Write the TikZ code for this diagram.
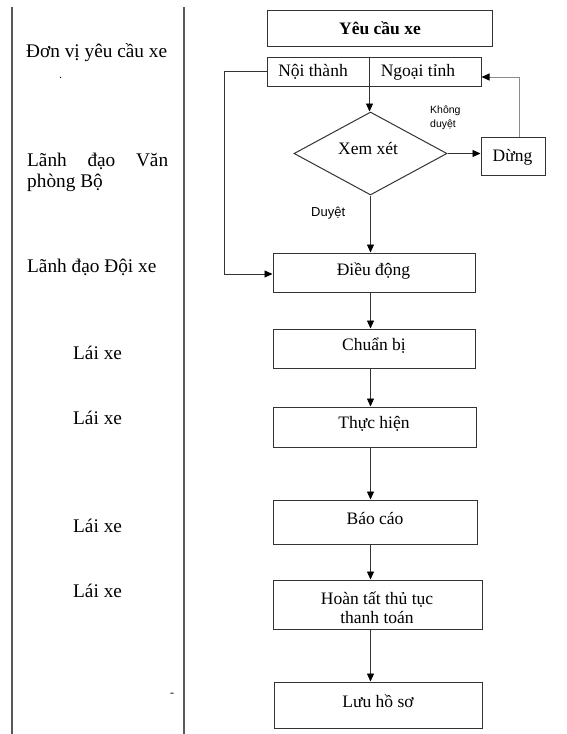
\documentclass[tikz,border=0pt]{standalone}
\usepackage{fontspec}
\setmainfont{Liberation Serif}
\newfontfamily\notesans{Liberation Sans}
\usetikzlibrary{arrows.meta,shapes.geometric}

\begin{document}
\begin{tikzpicture}[x=1pt,y=-1pt,
  lane/.style={draw=black!65, line width=1.4pt},
  box/.style={draw=black!80, line width=1pt, rectangle, inner sep=0pt},
  boxtext/.style={font=\fontsize{17.5}{19}\selectfont, inner sep=0pt, align=center},
  role/.style={font=\fontsize{19.3}{21}\selectfont, inner sep=0pt, anchor=west, align=left},
  flow/.style={draw=black!80, line width=0.9pt, -{Triangle[length=8pt,width=7pt,color=black]}},
  note/.style={font=\notesans\fontsize{10.5}{14}\selectfont, inner sep=0pt, align=left, anchor=west}
]
\useasboundingbox (0,0) rectangle (567,734);

% swimlane borders of the role column
\draw[lane] (12,7) -- (12,734);
\draw[lane] (184,7) -- (184,734);

% roles
\node[role] (r1) at (26,53) {Đơn vị yêu cầu xe};
\node[role, font=\fontsize{12}{12}\selectfont] (r1dot) at (59,78) {.};
\node[role] (r2) at (27,172) {\makebox[141pt][s]{Lãnh đạo Văn}\\phòng Bộ};
\node[role] (r3) at (27,267) {Lãnh đạo Đội xe};
\node[role] (r4) at (73,353) {Lái xe};
\node[role] (r5) at (73,418) {Lái xe};
\node[role] (r6) at (73,526) {Lái xe};
\node[role] (r7) at (73,591) {Lái xe};
\node[role, font=\fontsize{12}{12}\selectfont] (rdash) at (170,695) {-};

% process boxes
\node[box, minimum width=225pt, minimum height=36pt] (yc) at (379.5,28) {};
\node[box, minimum width=102pt, minimum height=29pt] (nt) at (318,71.5) {};
\node[box, minimum width=112pt, minimum height=29pt] (ng) at (425,71.5) {};
\node[draw=black!80, line width=1pt, diamond, inner sep=0pt,
      minimum width=153pt, minimum height=83pt] (xx) at (370.5,153.5) {};
\node[box, minimum width=64pt, minimum height=38pt] (dung) at (513,156) {};
\node[box, minimum width=202pt, minimum height=39pt] (dd) at (374,272.5) {};
\node[box, minimum width=202pt, minimum height=39pt] (cb) at (374,348.5) {};
\node[box, minimum width=203pt, minimum height=40pt] (th) at (374.5,427) {};
\node[box, minimum width=204pt, minimum height=44pt] (bc) at (375,522) {};
\node[box, minimum width=209pt, minimum height=49pt] (ht) at (377.5,604.5) {};
\node[box, minimum width=208pt, minimum height=46pt] (lhs) at (378,705) {};

% box texts
\node[boxtext, font=\bfseries\fontsize{17.5}{19}\selectfont] (yct) at (380,28) {Yêu cầu xe};
\node[boxtext] (ntt) at (313,72) {Nội thành};
\node[boxtext] (ngt) at (418,72) {Ngoại tỉnh};
\node[boxtext] (xxt) at (368,148) {Xem xét};
\node[boxtext] (dungt) at (512.5,157) {Dừng};
\node[boxtext] (ddt) at (373.5,271) {Điều động};
\node[boxtext] (cbt) at (374,346) {Chuẩn bị};
\node[boxtext] (tht) at (374,424) {Thực hiện};
\node[boxtext] (bct) at (375,518) {Báo cáo};
\node[boxtext] (htt) at (377,608) {Hoàn tất thủ tục\\thanh toán};
\node[boxtext] (lhst) at (378,701) {Lưu hồ sơ};

% decision labels
\node[note] (nkd) at (430,118) {Không\\duyệt};
\node[note, font=\notesans\fontsize{13}{14}\selectfont] (nd) at (311,213) {Duyệt};

% connectors
\draw[flow] (nt.south east) -- (nt.south east |- xx.north);
\draw[flow] (xx.east) -- (xx.east -| dung.west);
\draw[flow, draw=black!45] ([xshift=6pt]dung.north) |- ([yshift=-5.5pt]ng.east);
\draw[flow] (nt.west) -- ++(-42,0) |- ([yshift=-1.5pt]dd.west);
\draw[flow] (xx.south) -- (xx.south |- dd.north);
\draw[flow] (dd.south -| xx.south) -- (xx.south |- cb.north);
\draw[flow] (cb.south -| xx.south) -- (xx.south |- th.north);
\draw[flow] (th.south -| xx.south) -- (xx.south |- bc.north);
\draw[flow] (bc.south -| xx.south) -- (xx.south |- ht.north);
\draw[flow] (ht.south -| xx.south) -- (xx.south |- lhs.north);
\end{tikzpicture}
\end{document}
